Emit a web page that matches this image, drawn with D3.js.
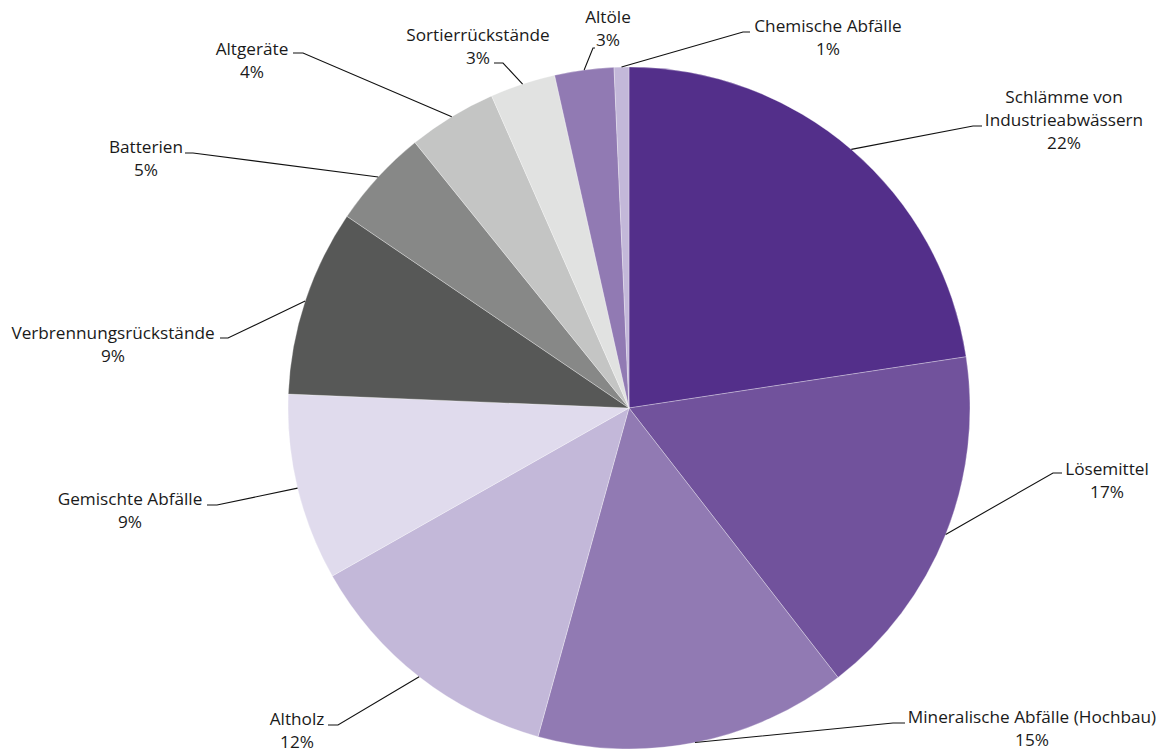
<!DOCTYPE html>
<html><head><meta charset="utf-8">
<script src="https://cdn.jsdelivr.net/npm/d3@7"></script>
<style>
html,body{margin:0;padding:0;background:#fff;}
svg{display:block;}
text{font-family:"Open Sans","Noto Sans",sans-serif;fill:#1a1a1a;}
</style></head>
<body>
<svg id="chart" width="1169" height="753"></svg>
<script>
const categories = ["Schlämme von Industrieabwässern","Lösemittel","Mineralische Abfälle (Hochbau)","Altholz","Gemischte Abfälle","Verbrennungsrückstände","Batterien","Altgeräte","Sortierrückstände","Altöle","Chemische Abfälle"];
const labelLines = [["Schlämme von","Industrieabwässern"],["Lösemittel"],["Mineralische Abfälle (Hochbau)"],["Altholz"],["Gemischte Abfälle"],["Verbrennungsrückstände"],["Batterien"],["Altgeräte"],["Sortierrückstände"],["Altöle"],["Chemische Abfälle"]];
const values = [22.6,16.9,14.8,12.5,8.85,8.85,4.7,4.2,3.1,2.8,0.7];
const pctLabels = ["22%","17%","15%","12%","9%","9%","5%","4%","3%","3%","1%"];
const colors = ["#532f8a","#71529c","#917ab3","#c3b8d9","#e0dbed","#575857","#878887","#c4c5c4","#e1e2e1","#917ab3","#c3b8d9"];

// label layout: elbow point, end of horizontal, text centre x, first baseline
const layout = [
  {ex:973,ey:126,hx:982,tx:1064,ty:103},
  {ex:1053,ey:473,hx:1062,tx:1107,ty:475},
  {ex:893,ey:723,hx:905,tx:1032,ty:723},
  {ex:338,ey:725,hx:328,tx:297,ty:725},
  {ex:217,ey:505,hx:207,tx:130,ty:505},
  {ex:228,ey:338,hx:220,tx:113,ty:339},
  {ex:193,ey:153,hx:185,tx:146,ty:153},
  {ex:303,ey:53,hx:293,tx:252,ty:55},
  {ex:503,ey:63,hx:494,tx:478,ty:41},
  {ex:593,ey:48,hx:595,tx:608,ty:23},
  {ex:743,ey:32,hx:750,tx:828,ty:32}
];

const cx = 629, cy = 408, R = 341, lh = 23;
const svg = d3.select("#chart");
const g = svg.append("g").attr("transform", `translate(${cx},${cy})`);
const pie = d3.pie().sort(null).value(d => d)(values);
const arc = d3.arc().innerRadius(0).outerRadius(R);

g.selectAll("path.slice").data(pie).join("path")
  .attr("class","slice")
  .attr("d", arc)
  .attr("fill", (d,i) => colors[i])
  .attr("stroke", "#fff").attr("stroke-opacity", 0.6).attr("stroke-width", 0.5);

const lab = svg.append("g");
pie.forEach((d,i) => {
  const a = (d.startAngle + d.endAngle) / 2;
  const sx = cx + R * Math.sin(a), sy = cy - R * Math.cos(a);
  const L = layout[i];
  lab.append("polyline")
    .attr("points", `${sx},${sy} ${L.ex},${L.ey} ${L.hx},${L.ey}`)
    .attr("fill","none").attr("stroke","#111").attr("stroke-width",1.1);
  const t = lab.append("text").attr("text-anchor","middle").attr("font-size",17.2);
  const lines = labelLines[i].concat([pctLabels[i]]);
  lines.forEach((s,k) => {
    t.append("tspan").attr("x", L.tx).attr("y", L.ty + k*lh).text(s);
  });
});
</script>
</body></html>
